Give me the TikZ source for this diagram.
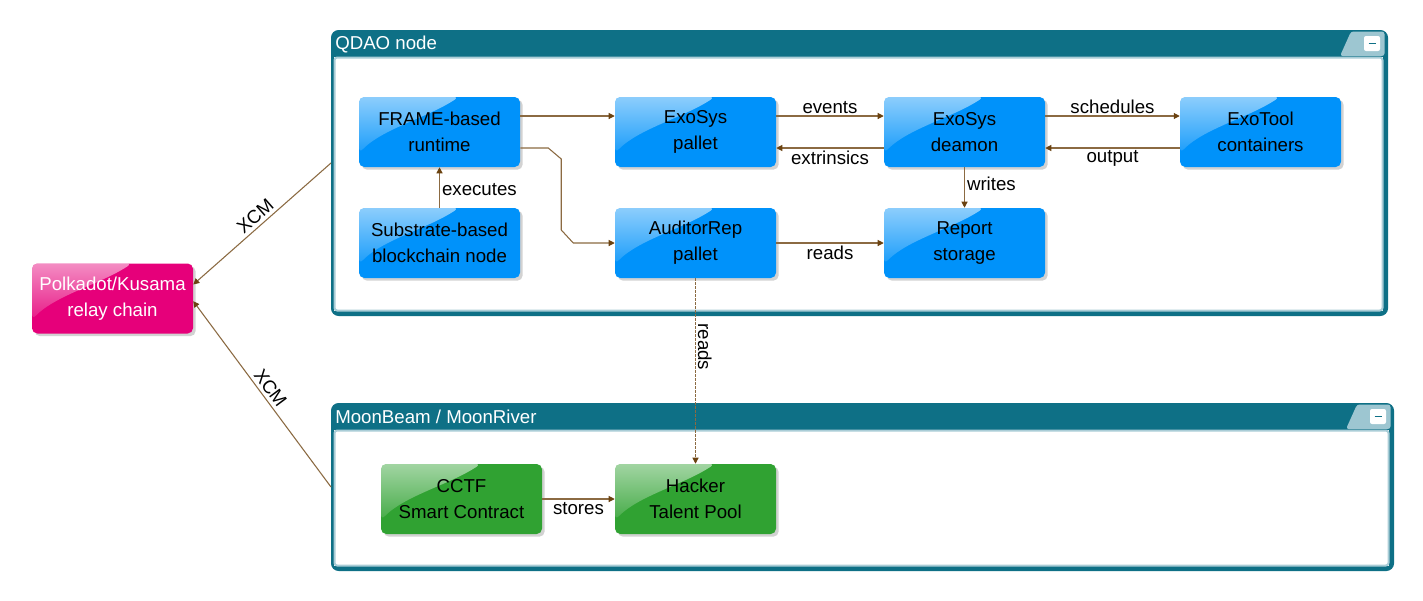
\documentclass[tikz,border=0pt]{standalone}
\usepackage{fontspec}
\setmainfont{Liberation Sans}
\usetikzlibrary{arrows.meta,shadows,calc,fadings}
\definecolor{nodeblue}{HTML}{0092FA}
\definecolor{nodepink}{HTML}{E6007A}
\definecolor{nodegreen}{HTML}{30A232}
\definecolor{hdr}{HTML}{0E7086}
\definecolor{tabc}{HTML}{9DC6D1}
\definecolor{innerc}{HTML}{AACDD7}
\definecolor{edgec}{HTML}{8B6A42}
\definecolor{arrowc}{HTML}{6B4210}
\newcommand\mkcontainer[6]{%
  \node[draw=hdr, fill=hdr, line width=1.5pt, rounded corners=5pt, inner sep=0pt,
        anchor=north west, minimum width={(#3-#1)*0.75pt}, minimum height={(#4-#2)*0.75pt}] (#6) at (#1,#2) {};
  \fill[tabc, rounded corners=2pt] ({#3-35},{#2+1.5}) -- ({#3-1.5},{#2+1.5}) -- ({#3-1.5},{#2+26}) -- ({#3-46},{#2+26}) -- cycle;
  \fill[white] ({#1+3},{#2+27}) rectangle ({#3-3},{#4-3});
  \draw[innerc, line width=1.5pt, rounded corners=2pt] ({#1+3.5},{#2+27.5}) rectangle ({#3-3.5},{#4-3.5});
  \node[anchor=west, text=white, inner sep=0pt, font=\hfont] (#6-title) at ({#1+4},{#2+14}) {#5};
  \fill[white, rounded corners=1.5pt] ({#3-22},{#2+6}) rectangle ({#3-6},{#2+21});
  \draw[hdr, line width=1.2pt] ({#3-17.5},{#2+13.5}) -- ({#3-10.5},{#2+13.5});
}
\newcommand\hfont{\fontsize{14}{16}\selectfont}
\begin{document}
\begin{tikzpicture}[x=0.75pt,y=-0.75pt,
  box/.style={rounded corners=4pt, minimum width=120.75pt, minimum height=52.5pt,
    inner sep=0pt, align=center, font=\fontsize{14}{19.5}\selectfont,
    drop shadow={shadow xshift=2pt, shadow yshift=-2pt, opacity=0.35},
    path picture={
      \fill[white, fill opacity=0.55, path fading=south]
        let \p1=(path picture bounding box.north west), \p2=(path picture bounding box.south east) in
        (\x1,\y1) -- ({\x1+0.62*(\x2-\x1)},\y1)
        .. controls ({\x1+0.42*(\x2-\x1)},{\y1+0.3*(\y2-\y1)}) and ({\x1+0.15*(\x2-\x1)},{\y1+0.45*(\y2-\y1)})
        .. (\x1,{\y1+0.8*(\y2-\y1)}) -- cycle;}},
  bluebox/.style={box, fill=nodeblue, text=black},
  pinkbox/.style={box, fill=nodepink, text=white},
  greenbox/.style={box, fill=nodegreen, text=black},
  edge/.style={draw=edgec, line width=0.8pt, -{Triangle[length=4.5pt,width=4.5pt,color=arrowc]}},
  lbl/.style={font=\fontsize{14}{16}\selectfont, text=black, inner sep=1.5pt}
]
\useasboundingbox (0,0) rectangle (1423,600);
\fill[white] (0,0) rectangle (1423,600);

\mkcontainer{331}{30}{1386}{314}{QDAO node}{qdao}
\mkcontainer{331}{403}{1392}{569}{MoonBeam / MoonRiver}{moon}

\node[bluebox] (frame) at (439.5,132) {FRAME-based\\runtime};
\node[bluebox] (exop) at (695.5,132) {ExoSys\\pallet};
\node[bluebox] (exod) at (964.5,132) {ExoSys\\deamon};
\node[bluebox] (exot) at (1260.5,132) {ExoTool\\containers};
\node[bluebox] (subs) at (439.5,243) {Substrate-based\\blockchain node};
\node[bluebox] (audit) at (695.5,243) {AuditorRep\\pallet};
\node[bluebox] (report) at (964.5,243) {Report\\storage};
\node[pinkbox] (polka) at (112.5,298.5) {Polkadot/Kusama\\relay chain};
\node[greenbox] (cctf) at (461.5,499) {CCTF\\Smart Contract};
\node[greenbox] (hacker) at (695.5,499) {Hacker\\Talent Pool};

\draw[edge] ([yshift=12pt]frame.east) -- ([yshift=12pt]exop.west);
\draw[edge] ([yshift=-12pt]frame.east) -- ++(28,0) -- ++(13,11) -- ++(0,71) -- ++(12,13) -- (audit.west);
\draw[edge] (subs.north) -- node[lbl, right, pos=0.45] {executes} (frame.south);
\draw[edge] ([yshift=12pt]exop.east) -- node[lbl, above] {events} ([yshift=12pt]exod.west);
\draw[edge] ([yshift=-12pt]exod.west) -- node[lbl, below] {extrinsics} ([yshift=-12pt]exop.east);
\draw[edge] ([yshift=12pt]exod.east) -- node[lbl, above] {schedules} ([yshift=12pt]exot.west);
\draw[edge] ([yshift=-12pt]exot.west) -- node[lbl, below] {output} ([yshift=-12pt]exod.east);
\draw[edge] (exod.south) -- node[lbl, right, pos=0.4] {writes} (report.north);
\draw[edge] (audit.east) -- node[lbl, below, inner sep=2pt] {reads} (report.west);
\draw[edge, dash pattern=on 2pt off 1pt] (audit.south) -- node[lbl, sloped, above, pos=0.37] {reads} (hacker.north);
\draw[edge] (cctf.east) -- node[lbl, below, inner sep=2pt] {stores} (hacker.west);
\draw[edge] ([yshift=7.5pt]qdao.west) -- node[lbl, sloped, above, inner sep=2.5pt] {XCM} ([yshift=10.5pt]polka.east);
\draw[edge] (moon.west) -- node[lbl, sloped, above, inner sep=2.5pt] {XCM} ([yshift=-2pt]polka.east);
\end{tikzpicture}
\end{document}
